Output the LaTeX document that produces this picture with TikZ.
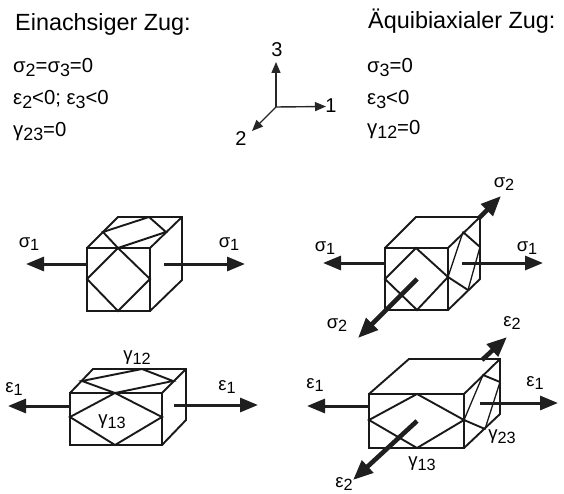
\documentclass[tikz,border=0pt]{standalone}
\usepackage{fontspec}
\setmainfont{Liberation Sans}
\usetikzlibrary{arrows.meta}
\newcommand{\dn}[1]{\raisebox{-0.32ex}{\scalebox{0.88}{#1}}}
\tikzset{
  x=1pt,y=-1pt,
  edge/.style={line width=1.9pt,line join=miter,line cap=round,black!90},
  front/.style={line width=2.4pt,black!90},
  thin edge/.style={line width=1.3pt,black!90},
  force/.style={line width=3pt,black!88,-{Triangle[length=18pt,width=14pt]}},
  heavy/.style={line width=4.6pt,black!88,-{Triangle[length=20pt,width=16pt]}},
  axis/.style={line width=1.4pt,black!85,-{Triangle[length=11pt,width=9pt]}},
  head/.style={anchor=base west,font=\fontsize{23.4}{26}\selectfont,inner sep=0pt},
  cond/.style={anchor=base west,font=\fontsize{20.3}{24}\selectfont,inner sep=0pt},
  lab/.style={font=\fontsize{18.5}{22}\selectfont,inner sep=0pt},
  axl/.style={font=\fontsize{20}{24}\selectfont,inner sep=0pt}
}
\begin{document}
\begin{tikzpicture}
\useasboundingbox (0,0) rectangle (564,494);
% texts
\node[head] (h1) at (15,31) {Einachsiger Zug:};
\node[head] (h2) at (368,29) {Äquibiaxialer Zug:};
\node[cond] (a1) at (13,73) {σ\dn{2}=σ\dn{3}=0};
\node[cond] (a2) at (13,105) {ε\dn{2}<0; ε\dn{3}<0};
\node[cond] (a3) at (13,137) {γ\dn{23}=0};
\node[cond] (b1) at (367,73) {σ\dn{3}=0};
\node[cond] (b2) at (367,105) {ε\dn{3}<0};
\node[cond] (b3) at (367,135) {γ\dn{12}=0};
% axes
\coordinate (o) at (276,107);
\coordinate (t3) at (276,62);
\coordinate (t2) at (252,131);
\coordinate (t1) at (326,106.5);
\draw[axis] (o) -- (t3);
\draw[axis] (o) -- (t2);
\draw[axis] (o) -- (t1);
\node[axl] (n3) at (277,50) {3};
\node[axl] (n2) at (241,139) {2};
\node[axl] (n1) at (331,106) {1};
% cube A
\draw[front] (87,248) rectangle (150,311);
\draw[edge] (87,248) -- (118,217) -- (182,217) -- (182,280) -- (150,311);
\draw[edge] (150,248) -- (182,217);
\draw[edge] (118,248) -- (87,279) -- (118,311) -- (150,279) -- cycle;
\draw[edge] (103,232) -- (149,217) -- (166,232) -- (118,248) -- cycle;
\draw[force] (87,264) -- (26,264);
\draw[force] (164,264) -- (245,264);
\node[lab] (sa1) at (29,244) {σ\dn{1}};
\node[lab] (sa2) at (229,244) {σ\dn{1}};
% cube B
\draw[front] (385,248) rectangle (448,310);
\draw[edge] (385,248) -- (416,217) -- (480,217) -- (480,279) -- (448,310);
\draw[edge] (448,248) -- (480,217);
\draw[edge] (416,248) -- (385,279) -- (417,310) -- (448,277) -- cycle;
\draw[thin edge] (463,232) -- (448,277);
\draw[edge] (463,232) -- (480,247);
\draw[thin edge] (480,247) -- (468,290);
\draw[edge] (448,277) -- (468,290);
\draw[heavy] (479,218) -- (501,196);
\draw[heavy] (417,279) -- (358,338);
\draw[force] (385,263) -- (323,263);
\draw[force] (462,263) -- (543,263);
\node[lab] (sb1) at (325,248) {σ\dn{1}};
\node[lab] (sb2) at (527,248) {σ\dn{1}};
\node[lab] (sb3) at (504,184) {σ\dn{2}};
\node[lab] (sb4) at (337,325) {σ\dn{2}};
% cube C
\draw[front] (70,393) rectangle (162,445);
\draw[edge] (70,393) -- (93,369) -- (186,369) -- (186,420) -- (162,445);
\draw[edge] (162,393) -- (186,369);
\draw[edge] (115,393) -- (70,417) -- (115,445) -- (162,417) -- cycle;
\draw[edge] (82,381) -- (142,369) -- (173,381) -- (115,393) -- cycle;
\draw[force] (70,406) -- (8,406);
\draw[force] (174,405) -- (258,405);
\node[lab] (ec1) at (14,389) {ε\dn{1}};
\node[lab] (ec2) at (227,387) {ε\dn{1}};
\node[lab] (gc1) at (137,358) {γ\dn{12}};
\node[lab] (gc2) at (112,422) {γ\dn{13}};
% cube D
\draw[front] (369,394) rectangle (464,448);
\draw[edge] (369,394) -- (409,359) -- (500,359) -- (500,414) -- (464,448);
\draw[edge] (464,394) -- (500,359);
\draw[edge] (417,394) -- (369,420) -- (417,448) -- (464,420) -- cycle;
\draw[thin edge] (464,420) -- (483,375);
\draw[edge] (483,375) -- (500,382);
\draw[thin edge] (500,382) -- (485,429);
\draw[edge] (464,420) -- (485,429);
\draw[heavy] (482,360) -- (507,337);
\draw[heavy] (417,421) -- (353,480);
\draw[force] (369,406) -- (307,406);
\draw[force] (480,403) -- (558,403);
\node[lab] (ed1) at (315,385) {ε\dn{1}};
\node[lab] (ed2) at (535,383) {ε\dn{1}};
\node[lab] (ed3) at (512,323) {ε\dn{2}};
\node[lab] (ed4) at (344,484) {ε\dn{2}};
\node[lab] (gd1) at (502,437) {γ\dn{23}};
\node[lab] (gd2) at (422,464) {γ\dn{13}};
\end{tikzpicture}
\end{document}
